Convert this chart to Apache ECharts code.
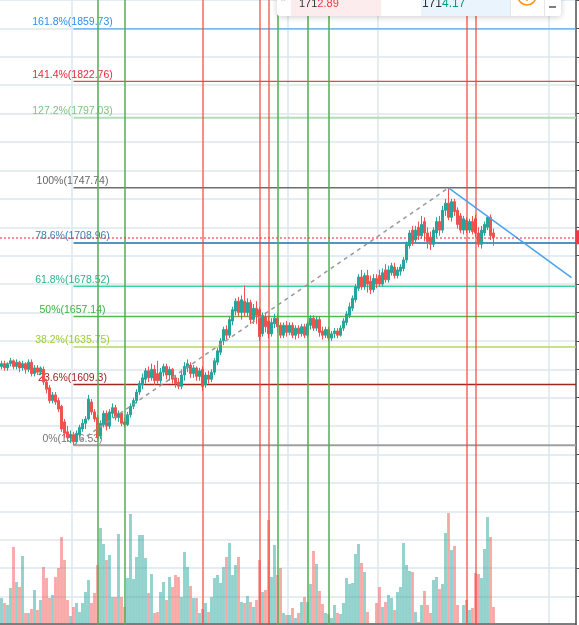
<!DOCTYPE html>
<html>
<head>
<meta charset="utf-8">
<style>
html, body { margin: 0; padding: 0; background: #fff; }
#chart { width: 579px; height: 625px; }
</style>
<script src="https://cdn.jsdelivr.net/npm/echarts@6.0.0/dist/echarts.min.js"></script>
</head>
<body>
<div id="chart"></div>
<script>
// candles: [open, close, low, high]
var candles = [
  [1622,1624,1620,1626],[1624,1621,1619,1626],[1621,1624,1619,1625],[1624,1626,1622,1628],[1626,1622,1620,1627],
  [1622,1625,1620,1627],[1625,1621,1618,1626],[1621,1624,1619,1626],[1624,1620,1617,1625],[1620,1625,1618,1627],
  [1625,1617,1615,1627],[1617,1621,1615,1623],[1621,1618,1616,1623],[1618,1621,1616,1622],[1620,1611,1609,1622],
  [1611,1606,1603,1613],[1607,1598,1596,1609],[1598,1602,1596,1604],[1602,1597,1595,1604],[1598,1592,1590,1600],
  [1594,1578,1576,1595],[1583,1575,1572,1585],[1576,1572,1569,1580],[1572,1574,1568,1577],[1574,1569,1566.53,1576],
  [1569,1575,1568,1577],[1574,1579,1572,1581],[1578,1582,1576,1585],[1582,1585,1578,1587],[1585,1599,1584,1602],
  [1597,1590,1588,1599],[1590,1585,1583,1592],[1586,1572,1570,1588],[1573,1582,1571,1584],[1581,1589,1579,1591],
  [1589,1580,1577,1591],[1580,1590,1578,1592],[1589,1593,1586,1596],[1593,1586,1584,1595],[1586,1589,1583,1591],
  [1589,1582,1580,1590],[1583,1581,1579,1586],[1581,1588,1580,1590],[1588,1594,1586,1596],[1594,1598,1592,1600],
  [1598,1604,1596,1606],[1604,1610,1602,1612],[1609,1614,1606,1617],[1613,1619,1610,1621],[1619,1614,1611,1622],
  [1614,1620,1612,1624],[1620,1612,1609,1623],[1617,1612,1610,1626],[1612,1618,1610,1621],[1618,1622,1615,1624],
  [1622,1616,1613,1624],[1616,1620,1612,1622],[1620,1613,1610,1621],[1614,1610,1607,1616],[1611,1608,1606,1614],
  [1608,1616,1606,1620],[1616,1622,1612,1625],[1621,1624,1618,1627],[1623,1617,1614,1625],[1617,1621,1614,1623],
  [1621,1615,1612,1622],[1615,1619,1612,1621],[1620,1608,1605,1622],[1609,1616,1607,1618],[1616,1613,1610,1619],
  [1613,1618,1611,1620],[1618,1626,1616,1628],[1625,1633,1623,1635],[1632,1640,1630,1642],[1640,1648,1637,1650],
  [1648,1644,1641,1651],[1644,1655,1642,1657],[1654,1662,1651,1664],[1661,1668,1658,1670],[1668,1660,1657,1671],
  [1660,1669,1655,1672],[1668,1660,1657,1679],[1660,1667,1657,1670],[1667,1655,1652,1669],[1655,1663,1652,1666],
  [1663,1658,1652,1668],[1662,1643,1640,1664],[1645,1658,1643,1660],[1657,1650,1646,1660],[1654,1645,1642,1657],
  [1645,1653,1643,1656],[1652,1656,1649,1659],[1656,1650,1646,1659],[1651,1644,1642,1653],[1644,1651,1642,1653],
  [1651,1646,1643,1654],[1646,1651,1644,1653],[1651,1644,1642,1653],[1644,1649,1641,1651],[1649,1645,1642,1651],
  [1645,1650,1643,1652],[1650,1644,1642,1652],[1644,1652,1642,1654],[1651,1656,1648,1658],[1656,1649,1647,1658],
  [1649,1655,1647,1657],[1655,1646,1643,1657],[1647,1644,1641,1650],[1644,1648,1642,1650],[1648,1642,1640,1650],
  [1642,1645,1640,1647],[1645,1647,1642,1649],[1647,1644,1642,1649],[1644,1649,1643,1651],[1649,1654,1647,1656],
  [1653,1659,1651,1661],[1658,1664,1656,1667],[1663,1670,1661,1672],[1669,1678,1667,1680],[1677,1685,1675,1687],
  [1685,1678,1676,1690],[1678,1686,1676,1688],[1686,1680,1674,1690],[1682,1676,1673,1686],[1676,1684,1674,1687],
  [1684,1680,1677,1687],[1686,1680,1678,1690],[1680,1688,1678,1691],[1690,1683,1681,1694],[1683,1690,1681,1693],
  [1688,1693,1686,1695],[1692,1686,1684,1695],[1686,1690,1684,1692],[1689,1692,1686,1694],[1691,1697,1689,1699],
  [1697,1708,1695,1710],[1707,1716,1705,1718],[1718,1710,1707,1721],[1711,1718,1709,1721],[1720,1714,1711,1724],
  [1714,1722,1712,1728],[1724,1716,1710,1727],[1716,1710,1705,1720],[1713,1708,1704,1717],[1708,1718,1706,1720],
  [1716,1724,1713,1727],[1724,1718,1714,1728],[1718,1732,1716,1735],[1732,1737,1728,1740],[1737,1727,1725,1747.74],
  [1727,1738,1724,1740],[1738,1731,1728,1740],[1732,1722,1719,1734],[1728,1718,1716,1730],[1718,1726,1715,1728],
  [1725,1718,1716,1727],[1718,1724,1716,1726],[1724,1717,1715,1728],[1726,1716,1713,1729],[1716,1708,1706,1720],
  [1708,1718,1705,1721],[1716,1722,1714,1724],[1720,1727,1718,1728],[1727,1714,1711,1729],[1716,1712.89,1707,1719]
];

var volumes = [
  26,21,19,36,77,42,37,68,11,11,
  15,34,14,24,57,46,26,29,47,56,
  87,64,24,8,17,21,12,21,32,44,
  21,31,59,96,80,64,69,27,27,90,
  27,17,46,110,45,67,89,89,66,31,
  50,11,12,32,42,24,47,37,49,47,
  27,72,57,38,26,26,11,15,21,12,
  27,46,49,41,57,67,81,49,59,67,
  22,21,28,22,17,24,64,32,34,104,
  47,79,49,56,11,9,9,16,6,11,
  22,27,22,40,73,60,33,20,11,10,
  6,19,11,10,21,46,40,41,70,80,
  61,52,12,1,1,21,37,17,22,29,
  26,14,32,37,81,59,53,52,12,2,
  19,33,19,11,44,47,35,40,91,111,
  74,78,19,1,19,24,14,16,51,50,
  46,75,107,87,17
];

var slotCount = 192;
var categories = [];
for (var i = 0; i < slotCount; i++) {
  var d = new Date(Date.UTC(2020, 5, 1, 0) + i * 3600000);
  categories.push(d.toISOString().slice(5, 13).replace('T', ' ') + ':00');
}

var fibLevels = ['161.8%', '141.4%', '127.2%', '100%', '78.6%', '61.8%', '50%', '38.2%', '23.6%', '0%'];
var fibPrices = [1859.73, 1822.76, 1797.03, 1747.74, 1708.96, 1678.52, 1657.14, 1635.75, 1609.3, 1566.53];
var fibStart = 24;   // swing low candle
var fibEnd = 149;    // swing high candle
var trendEnd = [190, 1684.5];
var lastPrice = 1712.89;
var greenMarks = [32, 41, 92, 102, 109];
var redMarks = [67, 86, 89, 155, 158];
var gridCols = [24, 96, 126, 183];

var fibTextColor = ['#2d8ef0', '#e8283c', '#7cc47c', '#666', '#3d7fb8', '#2fb08a', '#3cb043', '#9acd32', '#9c1c1c', '#777'];
var fibLineColor = ['#5ea6ea', '#e04855', '#b3ddb3', '#6e6e6e', '#1f6fa6', '#3ad59a', '#55b84f', '#b5d96a', '#a3261e', '#a0a0a0'];
var fibLineWidth = [1.2, 1.2, 2, 1.5, 1.5, 1.5, 1.5, 1.5, 1.5, 2];

var upColor = '#26a69a', downColor = '#ef5350';
var gridColor = '#dde7ef';

var chart = echarts.init(document.getElementById('chart'));

var markData = [];
greenMarks.forEach(function (k) {
  markData.push({ xAxis: k, lineStyle: { color: 'rgba(76,175,80,0.75)', width: 2, type: 'solid' } });
});
redMarks.forEach(function (k) {
  markData.push({ xAxis: k, lineStyle: { color: 'rgba(244,67,54,0.6)', width: 2, type: 'solid' } });
});
markData.push([
  { coord: [fibStart, fibPrices[9]], lineStyle: { color: '#999', width: 1.5, type: [4, 4] } },
  { coord: [fibEnd, fibPrices[3]] }
]);
markData.push([
  { coord: [fibEnd, fibPrices[3]], lineStyle: { color: '#4aa3ee', width: 1.5, type: 'solid' } },
  { coord: trendEnd }
]);
markData.push({
  yAxis: lastPrice,
  lineStyle: { color: 'rgba(242,54,69,0.75)', width: 1.5, type: [2, 2] },
  label: {
    show: true, position: 'end', distance: 0, formatter: String(lastPrice),
    backgroundColor: '#f23645', color: '#fff', fontSize: 10, padding: [2, 3]
  }
});

var option = {
  animation: false,
  backgroundColor: '#fff',
  grid: [
    { left: 0, right: 3, top: 0, bottom: -1 },
    { left: 0, right: 3, top: 0, bottom: 1 }
  ],
  xAxis: [{
    type: 'category',
    gridIndex: 0,
    data: categories,
    boundaryGap: true,
    axisLine: { show: false },
    axisTick: { show: false },
    axisLabel: { show: false },
    splitLine: {
      show: true,
      interval: function (index) { return gridCols.indexOf(index) >= 0; },
      lineStyle: { color: gridColor, width: 1.5 }
    }
  }, {
    type: 'category',
    gridIndex: 1,
    data: categories,
    boundaryGap: true,
    axisLine: { show: true, lineStyle: { color: '#555', width: 1.5 } },
    axisTick: { show: false },
    axisLabel: { show: false },
    splitLine: { show: false }
  }],
  yAxis: [{
    type: 'value',
    gridIndex: 0,
    position: 'right',
    min: 1440,
    max: 1880,
    interval: 20,
    axisLine: { show: true, lineStyle: { color: '#555', width: 1.5 } },
    axisTick: { show: true, length: 5, lineStyle: { color: '#555' } },
    axisLabel: { show: false },
    splitLine: { show: true, lineStyle: { color: gridColor, width: 1.5 } }
  }, {
    type: 'value',
    gridIndex: 1,
    min: 0,
    max: 624,
    show: false,
    splitLine: { show: false }
  }],
  series: [{
    name: 'Volume',
    type: 'bar',
    xAxisIndex: 1,
    yAxisIndex: 1,
    barCategoryGap: '4%',
    data: volumes,
    itemStyle: {
      color: function (p) {
        var c = candles[p.dataIndex];
        return c[1] >= c[0] ? 'rgba(38,166,154,0.5)' : 'rgba(239,83,80,0.5)';
      }
    }
  }, {
    name: 'Fib',
    type: 'custom',
    xAxisIndex: 0,
    yAxisIndex: 0,
    data: fibPrices.map(function (p, k) { return [fibStart, p, k]; }),
    renderItem: function (params, api) {
      var k = api.value(2);
      var pt = api.coord([api.value(0), api.value(1)]);
      var right = params.coordSys.x + params.coordSys.width;
      return {
        type: 'group',
        children: [{
          type: 'line',
          shape: { x1: pt[0], y1: pt[1], x2: right, y2: pt[1] },
          style: { stroke: fibLineColor[k], lineWidth: fibLineWidth[k] }
        }, {
          type: 'text',
          x: pt[0] - 1,
          y: pt[1] - 1,
          style: {
            text: fibLevels[k] + '(' + fibPrices[k] + ')',
            fill: fibTextColor[k],
            font: '10.5px "Liberation Sans", Arial, sans-serif',
            align: 'center',
            verticalAlign: 'bottom'
          }
        }]
      };
    }
  }, {
    name: 'Price',
    type: 'candlestick',
    xAxisIndex: 0,
    yAxisIndex: 0,
    barWidth: 2,
    data: candles,
    itemStyle: {
      color: upColor, color0: downColor,
      borderColor: upColor, borderColor0: downColor,
      borderWidth: 1
    },
    markLine: {
      silent: true,
      symbol: 'none',
      animation: false,
      label: { show: false },
      data: markData
    }
  }],
  graphic: [
    { type: 'rect', z: 100, shape: { x: 277, y: -20, width: 284, height: 36, r: 3 },
      style: { fill: '#fff', shadowBlur: 6, shadowColor: 'rgba(0,0,0,0.2)', shadowOffsetY: 1 } },
    { type: 'rect', z: 101, shape: { x: 291, y: -20, width: 90, height: 36 }, style: { fill: '#fdecee' } },
    { type: 'rect', z: 101, shape: { x: 421, y: -20, width: 89, height: 36 }, style: { fill: '#eaf4fd' } },
    { type: 'line', z: 101, shape: { x1: 510.5, y1: -20, x2: 510.5, y2: 16 }, style: { stroke: '#e6e6e6' } },
    { type: 'line', z: 101, shape: { x1: 544.5, y1: -20, x2: 544.5, y2: 16 }, style: { stroke: '#e6e6e6' } },
    { type: 'text', z: 102, x: 283, y: -3,
      style: { text: '||', fill: '#b0b3bb', font: '9px Arial', align: 'center', verticalAlign: 'middle' } },
    { type: 'text', z: 102, x: 299, y: 4,
      style: { text: '{a|171}{b|2.89}', verticalAlign: 'middle',
        rich: { a: { fill: '#333', fontSize: 11, fontFamily: 'Arial' }, b: { fill: '#f23645', fontSize: 11, fontFamily: 'Arial' } } } },
    { type: 'text', z: 102, x: 400, y: -4,
      style: { text: '1.00', fill: '#a0a3ab', font: '11px Arial', align: 'center', verticalAlign: 'middle' } },
    { type: 'text', z: 102, x: 422, y: 4,
      style: { text: '{a|171}{b|4.17}', verticalAlign: 'middle',
        rich: { a: { fill: '#333', fontSize: 12, fontFamily: 'Arial' }, b: { fill: '#089981', fontSize: 12, fontFamily: 'Arial' } } } },
    { type: 'circle', z: 102, shape: { cx: 527, cy: -4, r: 9 }, style: { fill: 'none', stroke: '#f7931a', lineWidth: 1.5 } },
    { type: 'line', z: 102, shape: { x1: 527, y1: -1, x2: 527, y2: 1 }, style: { stroke: '#f7931a', lineWidth: 1.5 } },
    { type: 'line', z: 102, shape: { x1: 549, y1: 7, x2: 556, y2: 7 }, style: { stroke: '#555', lineWidth: 1.5 } }
  ]
};

chart.setOption(option);
</script>
</body>
</html>
